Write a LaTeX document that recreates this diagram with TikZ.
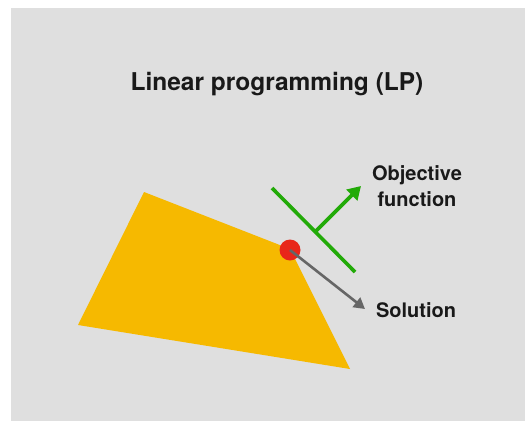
\documentclass[tikz,border=0pt]{standalone}
\usepackage{fontspec}
\setmainfont{TeX Gyre Heros}
\usetikzlibrary{arrows.meta}
\definecolor{panel}{HTML}{DFDFDF}
\definecolor{region}{HTML}{F6B900}
\definecolor{optimum}{HTML}{E8261A}
\definecolor{objgreen}{HTML}{22AA08}
\definecolor{solgray}{HTML}{666666}
\tikzset{
  label/.style={font=\bfseries\fontsize{20}{26}\selectfont, align=center, text=black!90, inner sep=0pt},
  objline/.style={draw=objgreen, line width=3.6pt},
  objarrow/.style={draw=objgreen, line width=3.6pt, -{Triangle[length=13pt,width=15pt]}},
  solarrow/.style={draw=solgray, line width=2.6pt, -{Triangle[length=11pt,width=12pt]}},
}
\begin{document}
\begin{tikzpicture}[x=1pt,y=-1pt]
  \useasboundingbox (0,0) rectangle (525,421);
  \fill[white] (0,0) rectangle (525,421);
  \fill[panel] (11,8) rectangle (525,421);
  % feasible region
  \fill[region] (144,192) -- (78,325) -- (350,369) -- (290,249) -- cycle;
  % title
  \node[label, font=\bfseries\fontsize{24.5}{28}\selectfont] (title) at (277,84) {Linear programming (LP)};
  % objective function level line and gradient direction
  \coordinate (o1) at (272,188);
  \coordinate (o2) at (355,272);
  \coordinate (ofoot) at (316,231);
  \coordinate (otip) at (361,186);
  \draw[objline] (o1) -- (o2);
  \draw[objarrow] (ofoot) -- (otip);
  % optimal vertex
  \node[circle, fill=optimum, minimum size=21pt, inner sep=0pt] (sol) at (290,250) {};
  \coordinate (stip) at (365,309);
  \draw[solarrow] (sol.center) -- (stip);
  % labels
  \node[label] (objlabel) at (417,186) {Objective\\function};
  \node[label] (sollabel) at (416,310) {Solution};
\end{tikzpicture}
\end{document}
